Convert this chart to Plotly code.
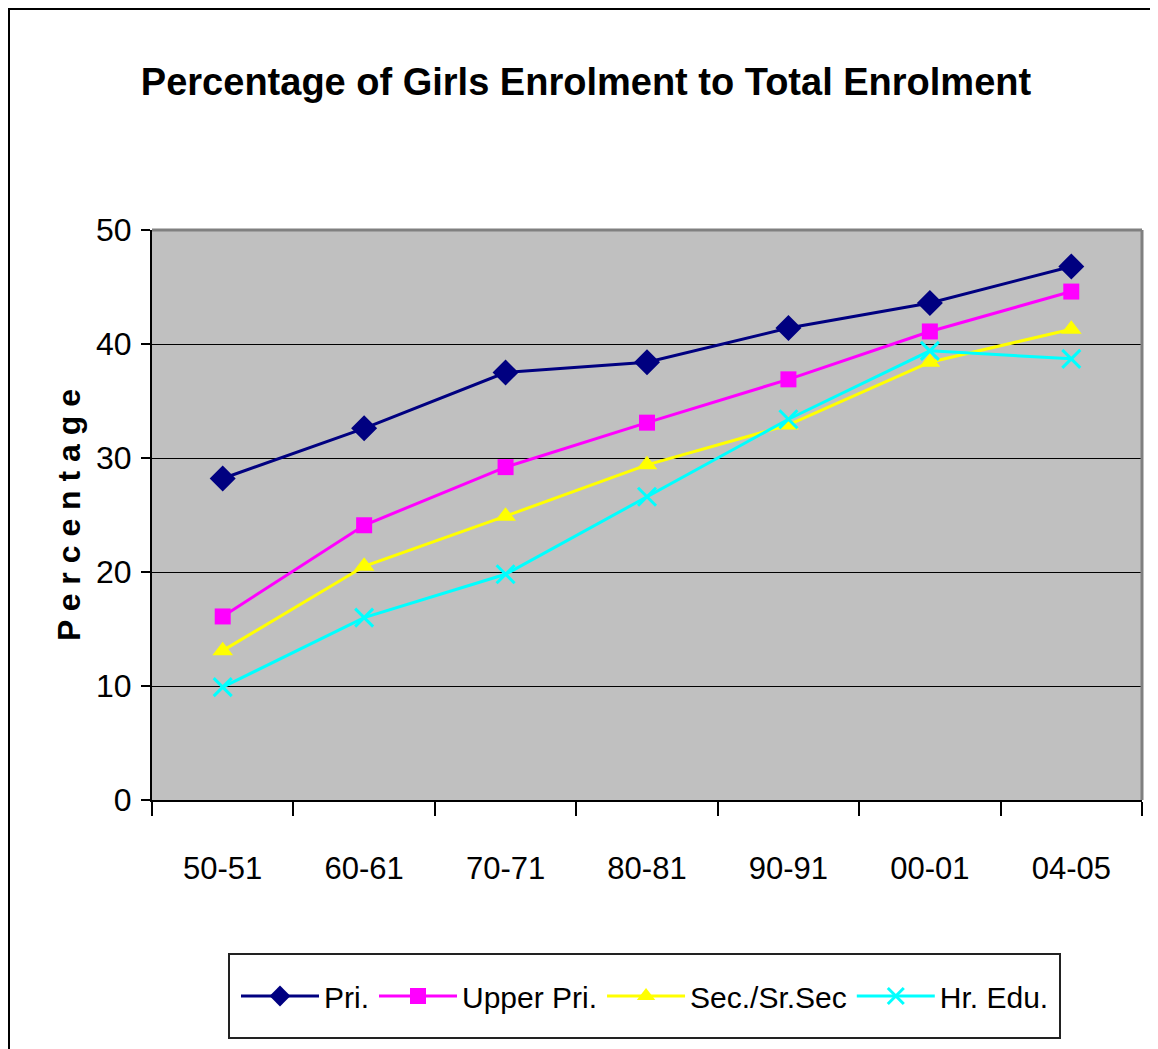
import plotly.graph_objects as go

categories = ["50-51", "60-61", "70-71", "80-81", "90-91", "00-01", "04-05"]
pri = [28.2, 32.6, 37.5, 38.4, 41.4, 43.6, 46.8]
upper_pri = [16.1, 24.1, 29.2, 33.1, 36.9, 41.1, 44.6]
sec = [13.1, 20.5, 24.9, 29.4, 32.9, 38.4, 41.3]
hr_edu = [9.9, 16.0, 19.8, 26.6, 33.4, 39.4, 38.7]
y_ticks = [0, 10, 20, 30, 40, 50]

FONT = "Liberation Sans Narrow, Arial Narrow, Liberation Sans, Arial, sans-serif"
BOLD_FONT = "Liberation Sans, Arial, sans-serif"

# the page places the figure at (8, 8); geometry below is in page pixels
OFF = 8
W, H = 1150, 1041
L, R, T, B = 152 - OFF, 16, 230 - OFF, 249
PW, PH = W - L - R, H - T - B


def px(x):
    return (x - OFF - L) / PW


def py(y):
    return (H - B - (y - OFF)) / PH


fig = go.Figure()
series = [
    ("Pri.", pri, "#000080", "diamond", 20),
    ("Upper Pri.", upper_pri, "#FF00FF", "square", 16),
    ("Sec./Sr.Sec", sec, "#FFFF00", "triangle-up", 18),
    ("Hr. Edu.", hr_edu, "#00FFFF", "x-thin-open", 18),
]
for name, vals, col, sym, sz in series:
    marker = dict(color=col, symbol=sym, size=sz)
    if sym == "x-thin-open":
        marker["line"] = dict(color=col, width=3)
    fig.add_trace(go.Scatter(
        x=categories, y=vals, name=name, mode="lines+markers",
        line=dict(color=col, width=3), marker=marker,
    ))

shapes = [
    # plot frame top & right (gray)
    dict(type="line", xref="paper", yref="paper", x0=0, x1=1, y0=1, y1=1,
         line=dict(color="#808080", width=3)),
    dict(type="line", xref="paper", yref="paper", x0=1, x1=1, y0=0, y1=1,
         line=dict(color="#808080", width=3)),
    # outer chart border (top & left)
    dict(type="line", xref="paper", yref="paper", x0=px(8), x1=px(1170), y0=py(9), y1=py(9),
         line=dict(color="#000000", width=2)),
    dict(type="line", xref="paper", yref="paper", x0=px(9), x1=px(9), y0=py(8), y1=py(1060),
         line=dict(color="#000000", width=2)),
    # legend box
    dict(type="rect", xref="paper", yref="paper", x0=px(229), x1=px(1060), y0=py(954), y1=py(1038),
         line=dict(color="#222222", width=2), fillcolor="white", layer="below"),
]

fig.update_layout(
    width=W, height=H,
    margin=dict(l=L, r=R, t=T, b=B, autoexpand=False),
    paper_bgcolor="white",
    plot_bgcolor="#C0C0C0",
    font=dict(family=FONT, color="black"),
    title=dict(
        text="<b>Percentage of Girls Enrolment to Total Enrolment</b>",
        font=dict(size=38, family=BOLD_FONT, color="black"),
        xref="container", x=(586 - OFF) / W, xanchor="center",
        yref="container", y=1 - (82 - OFF) / H, yanchor="middle",
    ),
    xaxis=dict(
        type="category", range=[-0.5, 6.5],
        showgrid=False, showline=True, linecolor="black", linewidth=2,
        ticks="outside", tickson="boundaries", ticklen=14, tickcolor="black", tickwidth=1.5,
        tickfont=dict(size=31, family=FONT), ticklabelstandoff=40,
    ),
    yaxis=dict(
        range=[0, 50], tickvals=y_ticks,
        showgrid=True, gridcolor="#000000", gridwidth=1,
        showline=True, linecolor="black", linewidth=2,
        ticks="outside", ticklen=9, tickcolor="black", tickwidth=1.5,
        tickfont=dict(size=32, family=FONT), ticklabelstandoff=3,
        zeroline=False,
        title=dict(text="<b>P e r c e n t a g e</b>",
                   font=dict(size=32, family=BOLD_FONT),
                   standoff=6),
    ),
    legend=dict(
        orientation="h", x=px(645), xanchor="center", y=py(996), yanchor="middle",
        bgcolor="rgba(0,0,0,0)", borderwidth=0,
        font=dict(size=30, family=FONT), itemwidth=78,
        tracegroupgap=0,
    ),
    shapes=shapes,
    showlegend=True,
)

fig.write_html("out.html")
